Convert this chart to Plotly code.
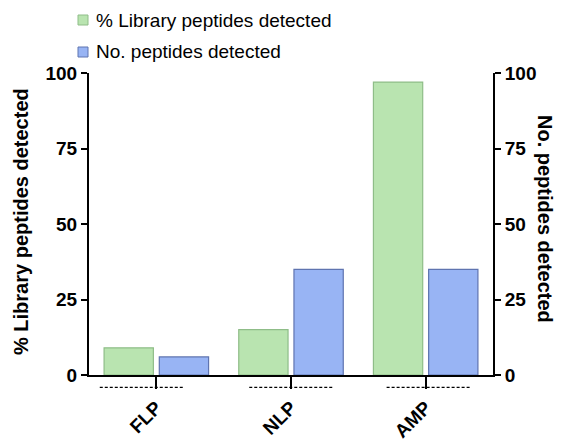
import plotly.graph_objects as go

# Peptide classes and detection results
categories = ["FLP", "NLP", "AMP"]
pct_library_detected = [9, 15, 97]
n_peptides_detected = [6, 35, 35]

series_names = ["% Library peptides detected", "No. peptides detected"]
y_ticks = [0, 25, 50, 75, 100]

# styling
GREEN_FILL = "#b9e4b0"
GREEN_LINE = "#8fbd88"
BLUE_FILL = "#98b4f4"
BLUE_LINE = "#5f74b0"
FONT = "Arial, 'Liberation Sans', sans-serif"
BAR_W = 0.366
GREEN_OFFSET = -0.388
BLUE_OFFSET = 0.022
# extent of the dashed rule under each category label (relative to the tick)
RULE_SPANS = [(-0.42, 0.20), (-0.31, 0.31), (-0.29, 0.33)]

W, H = 562, 441
ML, MR, MT, MB = 89, 69, 73, 66
PLOT_W, PLOT_H = W - ML - MR, H - MT - MB


def px_to_paper(px, py):
    """Convert figure pixel coordinates to paper coordinates."""
    return (px - ML) / PLOT_W, (H - MB - py) / PLOT_H


x_pos = list(range(len(categories)))

fig = go.Figure()
fig.add_trace(go.Bar(
    x=x_pos, y=pct_library_detected, name=series_names[0],
    width=BAR_W, offset=GREEN_OFFSET,
    marker=dict(color=GREEN_FILL, line=dict(color=GREEN_LINE, width=1.2)),
    yaxis="y", showlegend=False,
))
fig.add_trace(go.Bar(
    x=x_pos, y=n_peptides_detected, name=series_names[1],
    width=BAR_W, offset=BLUE_OFFSET,
    marker=dict(color=BLUE_FILL, line=dict(color=BLUE_LINE, width=1.2)),
    yaxis="y2", showlegend=False,
))

# dashed rules beneath the category ticks
for xi, (lo, hi) in zip(x_pos, RULE_SPANS):
    fig.add_shape(type="line", xref="x", yref="paper",
                  x0=xi + lo, x1=xi + hi, y0=-0.041, y1=-0.041,
                  line=dict(color="black", width=1.3, dash="3px,2px"))

# key above the plot area (swatch + label per series)
annotations = []
for (name, fill, edge), row_y in zip(
        [(series_names[0], GREEN_FILL, GREEN_LINE),
         (series_names[1], BLUE_FILL, BLUE_LINE)], [20, 52]):
    x0, y0 = px_to_paper(78, row_y - 5)
    x1, y1 = px_to_paper(88, row_y + 5)
    fig.add_shape(type="rect", xref="paper", yref="paper",
                  x0=x0, x1=x1, y0=y0, y1=y1,
                  fillcolor=fill, line=dict(color=edge, width=1))
    tx, ty = px_to_paper(94, row_y)
    annotations.append(dict(
        text=name, xref="paper", yref="paper", x=tx, y=ty,
        xanchor="left", yanchor="middle", showarrow=False,
        font=dict(family=FONT, size=19, color="black")))

axis_common = dict(
    range=[0, 100], tickvals=y_ticks, showgrid=False, zeroline=False,
    showline=True, linecolor="black", linewidth=2, automargin=False,
    ticks="outside", ticklen=6, tickwidth=2, tickcolor="black",
    tickfont=dict(family=FONT, size=19, color="black", weight="bold"),
)

tx, ty = px_to_paper(21, 222)
annotations.append(dict(
    text=series_names[0], xref="paper", yref="paper",
    x=tx, y=ty, xanchor="center", yanchor="middle",
    textangle=-90, showarrow=False,
    font=dict(family=FONT, size=20, color="black", weight="bold")))
tx, ty = px_to_paper(545, 219)
annotations.append(dict(
    text=series_names[1], xref="paper", yref="paper",
    x=tx, y=ty, xanchor="center", yanchor="middle",
    textangle=90, showarrow=False,
    font=dict(family=FONT, size=20, color="black", weight="bold")))

fig.update_layout(
    width=W, height=H,
    margin=dict(l=ML, r=MR, t=MT, b=MB),
    paper_bgcolor="white", plot_bgcolor="white",
    barmode="overlay", showlegend=False,
    font=dict(family=FONT, color="black"),
    xaxis=dict(
        range=[-0.5, 2.5], tickvals=x_pos, ticktext=categories,
        tickangle=-45, showgrid=False, zeroline=False, automargin=False,
        showline=True, linecolor="black", linewidth=2,
        ticks="outside", ticklen=12, tickwidth=2, tickcolor="black",
        tickfont=dict(family=FONT, size=19, color="black", weight="bold"),
    ),
    yaxis=dict(side="left", **axis_common),
    yaxis2=dict(side="right", overlaying="y", anchor="x", **axis_common),
    annotations=annotations,
)

fig.write_html("out.html")
